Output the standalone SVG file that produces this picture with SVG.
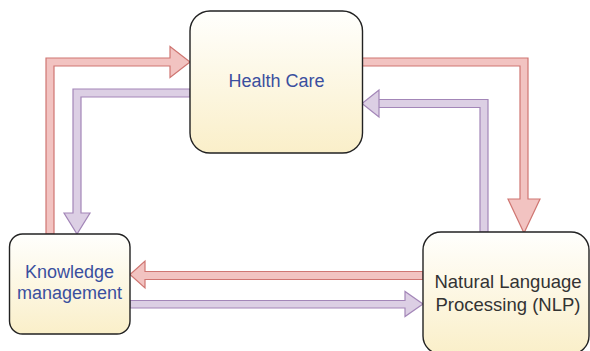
<svg xmlns="http://www.w3.org/2000/svg" width="590" height="351" viewBox="0 0 590 351">
  <defs>
    <linearGradient id="boxFill" x1="0" y1="0" x2="0" y2="1">
      <stop offset="0" stop-color="#fffffd"/>
      <stop offset="1" stop-color="#faefc9"/>
    </linearGradient>
    <style>
      .box { fill: url(#boxFill); stroke: #222222; stroke-width: 1.4; }
      .red { fill: #f2c3c1; stroke: #cf7672; stroke-width: 1.2; stroke-linejoin: miter; }
      .purple { fill: #dccfe4; stroke: #a386b8; stroke-width: 1.2; stroke-linejoin: miter; }
      .label { font-family: "Liberation Sans", Arial, Helvetica, sans-serif; font-size: 18px; text-anchor: middle; }
      .blue { fill: #3a4f9f; }
      .dark { fill: #333333; }
    </style>
  </defs>

  <g id="connectors">
    <!-- Knowledge management -> Health Care -->
    <polygon class="red" points="46,234 46,58 170,58 170,46.5 190,62 170,77.5 170,66 54,66 54,234"/>
    <!-- Health Care -> Knowledge management -->
    <polygon class="purple" points="190,89 73,89 73,213 64,213 77,234 90,213 81,213 81,97 190,97"/>
    <!-- Health Care -> NLP -->
    <polygon class="red" points="362,58 528,58 528,199 540,199 524,233 508,199 520,199 520,66 362,66"/>
    <!-- NLP -> Health Care -->
    <polygon class="purple" points="480,232 480,107.5 379,107.5 379,90 362,103.5 379,117 379,99.5 488,99.5 488,232"/>
    <!-- NLP -> Knowledge management -->
    <polygon class="red" points="423,271.5 145,271.5 145,261 130,274.5 145,288 145,279.5 423,279.5"/>
    <!-- Knowledge management -> NLP -->
    <polygon class="purple" points="130,300.5 405,300.5 405,291.5 423,304 405,316.5 405,308 130,308"/>
  </g>

  <g id="health-care">
    <rect class="box" x="190" y="11" width="172.5" height="142" rx="20" ry="20"/>
    <text class="label blue" x="276.5" y="87">Health Care</text>
  </g>

  <g id="knowledge-management">
    <rect class="box" x="9.5" y="234" width="120.5" height="100" rx="13" ry="13"/>
    <text class="label blue" x="69.5" y="278">Knowledge</text>
    <text class="label blue" x="69.5" y="299">management</text>
  </g>

  <g id="nlp">
    <rect class="box" x="423" y="232" width="166" height="122" rx="18" ry="18"/>
    <text class="label dark" x="508" y="288" style="font-size:18.5px">Natural Language</text>
    <text class="label dark" x="508" y="311" style="font-size:18.5px">Processing (NLP)</text>
  </g>
</svg>
